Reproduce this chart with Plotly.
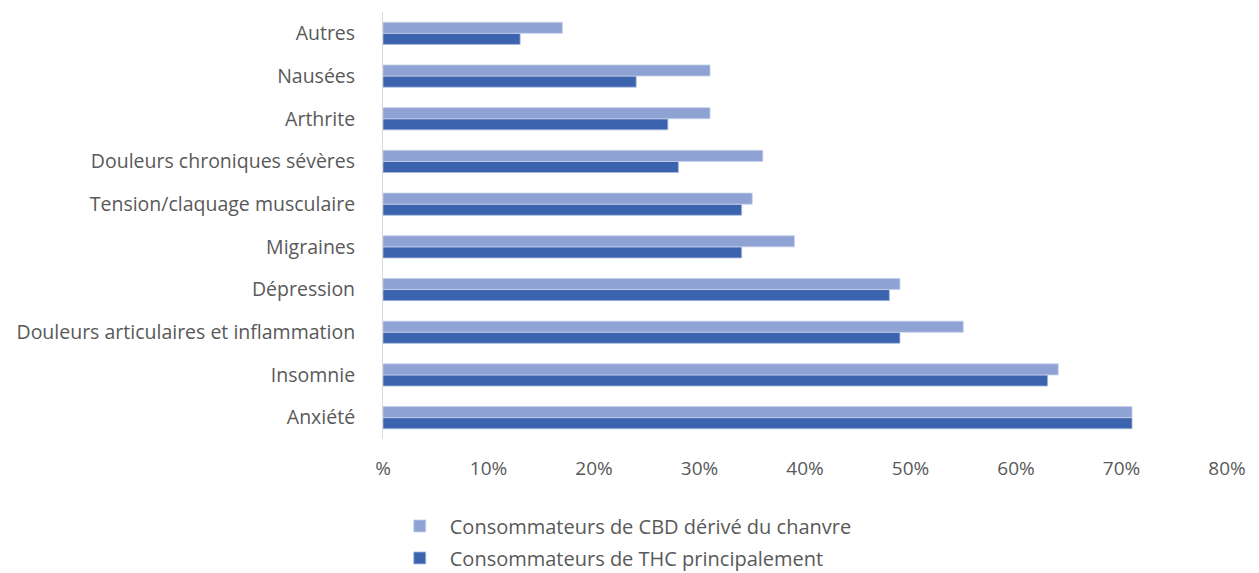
import plotly.graph_objects as go

categories = ["Anxiété", "Insomnie", "Douleurs articulaires et inflammation", "Dépression",
              "Migraines", "Tension/claquage musculaire", "Douleurs chroniques sévères",
              "Arthrite", "Nausées", "Autres"]
cbd_values = [71, 64, 55, 49, 39, 35, 36, 31, 31, 17]
thc_values = [71, 63, 49, 48, 34, 34, 28, 27, 24, 13]
tick_vals = [0, 10, 20, 30, 40, 50, 60, 70, 80]
tick_text = ["%", "10%", "20%", "30%", "40%", "50%", "60%", "70%", "80%"]

FONT = "Open Sans"
GRAY = "#595959"

fig = go.Figure()
fig.add_trace(go.Bar(
    y=categories, x=thc_values, orientation="h",
    name="Consommateurs de THC principalement",
    marker=dict(color="#3C64AE", line=dict(color="#A9BBE0", width=0.8)),
    legendrank=2, legendgroup="thc",
))
fig.add_trace(go.Bar(
    y=categories, x=cbd_values, orientation="h",
    name="Consommateurs de CBD dérivé du chanvre",
    marker=dict(color="#8FA2D4", line=dict(color="#C5D0EA", width=0.8)),
    legendrank=1, legendgroup="cbd",
))

fig.update_layout(
    width=1259, height=573,
    margin=dict(l=375, r=40, t=4, b=131),
    barmode="group", bargap=0.48, bargroupgap=0,
    plot_bgcolor="white", paper_bgcolor="white",
    font=dict(family=FONT, size=19.5, color=GRAY),
    showlegend=True,
    legend=dict(orientation="v", x=0.008, xanchor="left", y=-0.158, yanchor="top",
                itemwidth=50,
                font=dict(family=FONT, size=20, color=GRAY), tracegroupgap=3),
    xaxis=dict(range=[0, 80], tickvals=tick_vals, ticktext=tick_text,
               tickfont=dict(size=19),
               showgrid=False, zeroline=False, showline=False,
               ticks="", ticklabelstandoff=16, fixedrange=True),
    yaxis=dict(showgrid=False, zeroline=False, showline=True, linecolor="#D9D9D9",
               linewidth=1, ticks="", ticklabelstandoff=23),
)

fig.write_html("out.html")
